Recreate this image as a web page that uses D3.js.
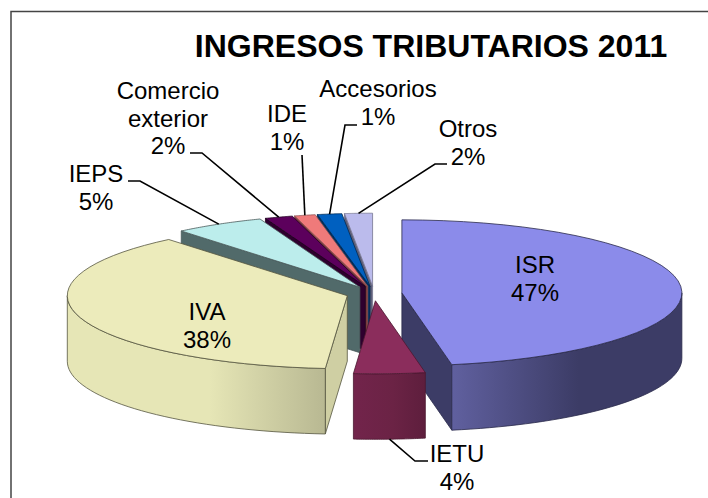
<!DOCTYPE html>
<html>
<head>
<meta charset="utf-8">
<script src="https://cdn.jsdelivr.net/npm/d3@7"></script>
<style>
  html, body { margin: 0; padding: 0; background: #fff; overflow: hidden; }
  text { font-family: "Liberation Sans", Arial, sans-serif; fill: #000; }
</style>
</head>
<body>
<div id="drawing"></div>
<script>
const width = 708;
const height = 498;

// values (percent, one decimal)
const categories = ["ISR", "IETU", "IVA", "IEPS", "Comercio exterior", "IDE", "Accesorios", "Otros"];
const shares = [47.1, 4.1, 37.7, 5.2, 1.6, 1.2, 1.4, 1.6];

// colours
const topColors = ["#8b8bea", "#8b2d5c", "#ecebbb", "#bcedec", "#5c005c", "#ef7a7a", "#0060c0", "#bbbbec"];
const wallColors = ["#3c3c66", "#6b2345", "#cfcfa3", "#516a6a", "#2e002e", "#7a3d3d", "#003060", "#5f5f78"];
const rimStops = [
  ["#60609f", "#3c3c66", "#3c3c66"],
  ["#72244b", "#6b2345", "#5e1e3d"],
  ["#e6e6b6", "#e6e6b6", "#b8b892"],
  ["#516a6a", "#516a6a", "#516a6a"],
  ["#2e002e", "#2e002e", "#2e002e"],
  ["#7a3d3d", "#7a3d3d", "#7a3d3d"],
  ["#003060", "#003060", "#003060"],
  ["#5f5f78", "#5f5f78", "#5f5f78"]
];
const edgeColors = ["#2a2a4a", "#4a1830", "#555540", "#4a5a5a", "#200020", "#8a5050", "#002850", "#777790"];

// pie geometry
const centerX = 374;
const centerY = 293.5;
const radiusX = 280;
const radiusY = 73;
const depth = 65.5;
const explode = 0.1;

// label layout: centre x and the baseline of each line
const labelLines = [
  ["ISR", "47%"], ["IETU", "4%"], ["IVA", "38%"], ["IEPS", "5%"],
  ["Comercio", "exterior", "2%"], ["IDE", "1%"], ["Accesorios", "1%"], ["Otros", "2%"]
];
const labelX = [535, 457, 207, 96, 168, 287, 378, 468];
const labelY = [273, 462, 320, 182, 99, 122, 97, 137];
const lineGap = 27.6;
// leader line: elbow and end, null for labels sitting on the slice
const leaders = [
  null,
  [[415, 461], [428, 461]],
  null,
  [[140, 181], [128, 181]],
  [[202, 153], [190, 153]],
  [[302, 155]],
  [[345, 125], [357, 125]],
  [[435, 164], [447, 164]]
];

const xScale = d3.scaleLinear().domain([-1, 1]).range([-radiusX, radiusX]);
const yScale = d3.scaleLinear().domain([-1, 1]).range([radiusY, -radiusY]);

const pie = d3.pie().sort(null).startAngle(0).endAngle(2 * Math.PI);
const slices = pie(shares).map((d, i) => {
  const mid = (d.startAngle + d.endAngle) / 2;
  return {
    i: i,
    a0: d.startAngle,
    a1: d.endAngle,
    mid: mid,
    cx: centerX + explode * xScale(Math.sin(mid)),
    cy: centerY + explode * yScale(Math.cos(mid))
  };
});

const rimPoint = (s, a, dy) => [s.cx + xScale(Math.sin(a)), s.cy + yScale(Math.cos(a)) + (dy || 0)];

function arcPoints(s, a0, a1, dy) {
  return d3.range(0, 41).map((k) => rimPoint(s, a0 + (a1 - a0) * k / 40, dy));
}

const line = d3.line();

const svg = d3.select("#drawing").append("svg")
  .attr("width", width)
  .attr("height", height)
  .style("display", "block");

const defs = svg.append("defs");
rimStops.forEach((stops, i) => {
  const grad = defs.append("linearGradient").attr("id", "rim" + i);
  grad.append("stop").attr("offset", "0%").attr("stop-color", stops[0]);
  grad.append("stop").attr("offset", "55%").attr("stop-color", stops[1]);
  grad.append("stop").attr("offset", "100%").attr("stop-color", stops[2]);
});

// frame, only the top and left edges show in the crop
svg.append("path")
  .attr("d", `M11,${height}V11.5H${width}`)
  .attr("fill", "none")
  .attr("stroke", "#444")
  .attr("stroke-width", 1.5);

svg.append("text")
  .attr("x", 431)
  .attr("y", 57)
  .attr("text-anchor", "middle")
  .attr("font-size", 32)
  .attr("font-weight", "bold")
  .text("INGRESOS TRIBUTARIOS 2011");

// back to front: Otros first, IETU last
const drawOrder = [7, 6, 5, 4, 3, 2, 0, 1];
const pieGroup = svg.append("g");

drawOrder.forEach((i) => {
  const s = slices[i];
  const g = pieGroup.append("g").attr("stroke", edgeColors[i]).attr("stroke-width", 0.8).attr("stroke-linejoin", "round");

  // radial walls that face the viewer
  [[s.a0, Math.sin(s.a0) < -1e-6], [s.a1, Math.sin(s.a1) > 1e-6]].forEach(([a, visible]) => {
    if (!visible) return;
    const r0 = rimPoint(s, a), r1 = rimPoint(s, a, depth);
    g.append("path")
      .attr("d", line([[s.cx, s.cy], r0, r1, [s.cx, s.cy + depth]]) + "Z")
      .attr("fill", wallColors[i]);
  });

  // outer rim, front half only
  const from = Math.max(s.a0, Math.PI / 2);
  const to = Math.min(s.a1, 3 * Math.PI / 2);
  if (to > from) {
    const upper = arcPoints(s, from, to);
    const lower = arcPoints(s, to, from, depth);
    g.append("path")
      .attr("d", line(upper.concat(lower)) + "Z")
      .attr("fill", `url(#rim${i})`);
  }

  // top face
  g.append("path")
    .attr("d", line([[s.cx, s.cy]].concat(arcPoints(s, s.a0, s.a1))) + "Z")
    .attr("fill", topColors[i]);
});

// leader lines start on the rim of their slice
const leaderGroup = svg.append("g").attr("fill", "none").attr("stroke", "#000").attr("stroke-width", 1.6);
leaders.forEach((pts, i) => {
  if (!pts) return;
  const s = slices[i];
  const start = Math.cos(s.mid) < 0 ? rimPoint(s, s.mid, depth) : rimPoint(s, s.mid);
  leaderGroup.append("path").attr("d", line([start].concat(pts)));
});

// labels
labelLines.forEach((rows, i) => {
  const t = svg.append("text")
    .attr("text-anchor", "middle")
    .attr("font-size", 24);
  rows.forEach((row, k) => {
    t.append("tspan")
      .attr("x", labelX[i])
      .attr("y", labelY[i] + k * lineGap)
      .text(row);
  });
});
</script>
</body>
</html>
